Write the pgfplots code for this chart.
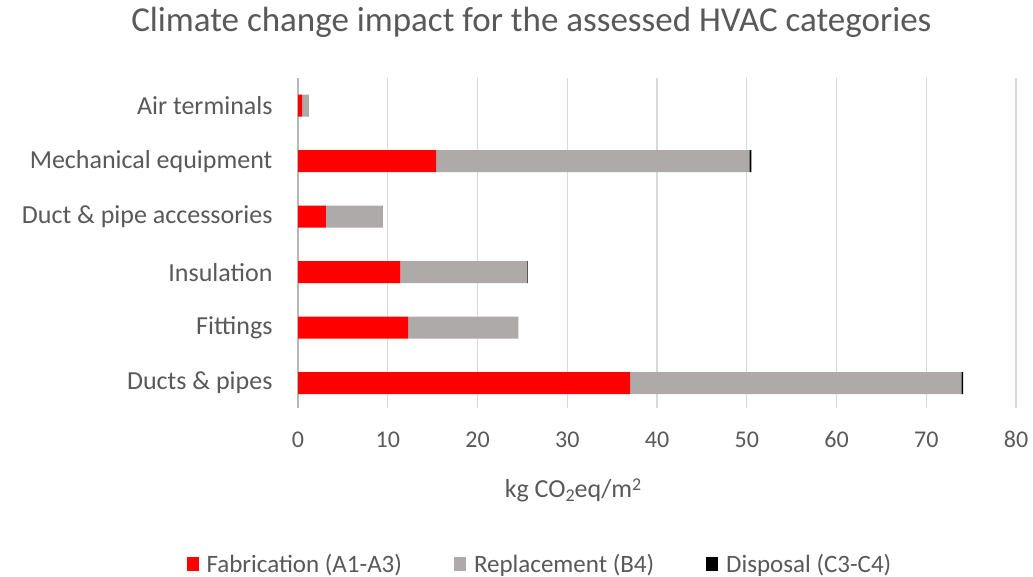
\documentclass[border=0pt]{standalone}
\usepackage{pgfplots}
\pgfplotsset{compat=1.18}
\usepackage{fontspec}
\setmainfont{Carlito}
\definecolor{txt}{HTML}{595959}
\definecolor{grd}{HTML}{D9D9D9}
\definecolor{fab}{HTML}{FF0000}
\definecolor{rep}{HTML}{AEAAAA}
\definecolor{dis}{HTML}{000000}
\begin{document}
\begin{tikzpicture}[x=1bp,y=1bp]
\useasboundingbox (0,0) rectangle (1033,577);
\begin{axis}[
  at={(298bp,169bp)}, anchor=south west,
  scale only axis, width=718bp, height=330bp,
  xbar stacked, bar width=22bp,
  xmin=0, xmax=80, ymin=-0.45, ymax=5.5,
  xtick={0,10,...,80},
  ytick={0,1,2,3,4,5},
  yticklabels={Ducts \& pipes, Fittings, Insulation, Duct \& pipe accessories, Mechanical equipment, Air terminals},
  xmajorgrids, grid style={grd, line width=1.3bp},
  axis x line*=bottom, axis y line*=left,
  x axis line style={draw=none},
  y axis line style={draw=grd!85!black, line width=1.3bp, -},
  major tick length=0pt,
  xticklabel style={font=\fontsize{24bp}{28bp}\selectfont, text=txt, yshift=-20bp},
  yticklabel style={font=\fontsize{26bp}{30bp}\selectfont, text=txt, xshift=-22bp},
  /pgf/number format/assume math mode=true,
  xlabel={kg CO\raisebox{-0.35ex}{\fontsize{18bp}{18bp}\selectfont 2}eq/m\raisebox{0.55ex}{\fontsize{18bp}{18bp}\selectfont 2}},
  xlabel style={font=\fontsize{26bp}{30bp}\selectfont, text=txt, at={(rel axis cs:0.383,-0.25)}, anchor=center},
  title={Climate change impact for the assessed HVAC categories},
  title style={font=\fontsize{35bp}{40bp}\selectfont, text=txt, at={(rel axis cs:0.325,1.15)}, anchor=center},
  legend style={at={(rel axis cs:0.337,-0.472)}, anchor=center, draw=none, legend columns=3,
    font=\fontsize{25bp}{29bp}\selectfont, text=txt,
    /tikz/every even column/.append style={column sep=50bp}},
  legend image code/.code={\fill[#1] (0bp,-7bp) rectangle (12bp,7bp); \path (18bp,0bp);},
]
\addplot[fill=fab, draw=none] coordinates {(37.0,0) (12.26,1) (11.4,2) (3.1,3) (15.4,4) (0.45,5)};
\addplot[fill=rep, draw=none] coordinates {(36.9,0) (12.24,1) (14.1,2) (6.3,3) (34.9,4) (0.7,5)};
\addplot[fill=dis, draw=none] coordinates {(0.2,0) (0.02,1) (0.08,2) (0.02,3) (0.22,4) (0.02,5)};
\legend{Fabrication (A1-A3), Replacement (B4), Disposal (C3-C4)}
\end{axis}
\end{tikzpicture}
\end{document}
